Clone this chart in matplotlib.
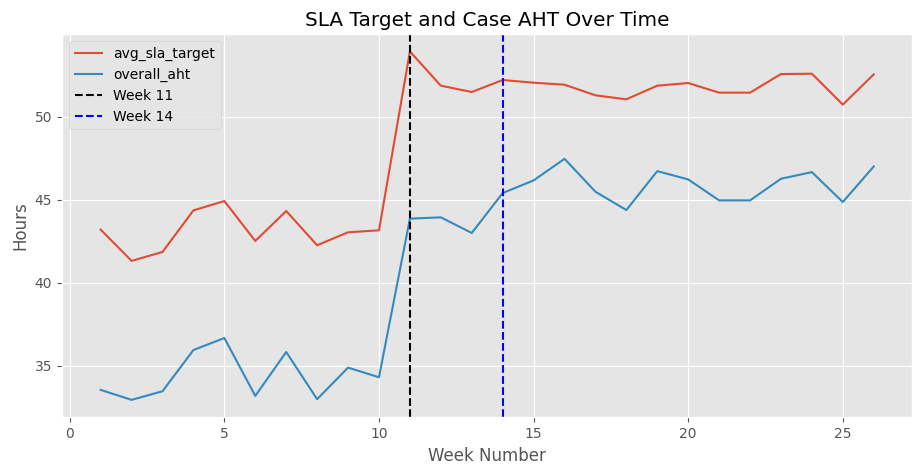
import matplotlib
matplotlib.use("Agg")
import matplotlib.pyplot as plt

plt.style.use("ggplot")

weeks = list(range(1, 27))
avg_sla_target = [43.2, 41.32, 41.86, 44.36, 44.92, 42.52, 44.32, 42.26, 43.04, 43.16,
                  53.92, 51.86, 51.48, 52.2, 52.04, 51.92, 51.28, 51.04, 51.86, 52.02,
                  51.44, 51.44, 52.56, 52.58, 50.72, 52.54]
overall_aht = [33.56, 32.96, 33.48, 35.96, 36.68, 33.2, 35.84, 33.0, 34.9, 34.32,
               43.86, 43.94, 43.0, 45.4, 46.16, 47.46, 45.48, 44.38, 46.72, 46.22,
               44.96, 44.96, 46.26, 46.66, 44.86, 47.0]
marker_weeks = [11, 14]
marker_colors = ["black", "blue"]

fig = plt.figure(figsize=(9.23, 4.75), dpi=100)
ax = fig.add_subplot(111)
fig.subplots_adjust(left=0.0672, right=0.9885, top=0.9284, bottom=0.1215)

ax.plot(weeks, avg_sla_target, label="avg_sla_target")
ax.plot(weeks, overall_aht, label="overall_aht")
for w, c in zip(marker_weeks, marker_colors):
    ax.axvline(w, color=c, linestyle="--", label=f"Week {w}")

ax.set_title("SLA Target and Case AHT Over Time")
ax.set_xlabel("Week Number")
ax.set_ylabel("Hours")
ax.legend(loc="upper left")

fig.savefig("out.png", dpi=100)
